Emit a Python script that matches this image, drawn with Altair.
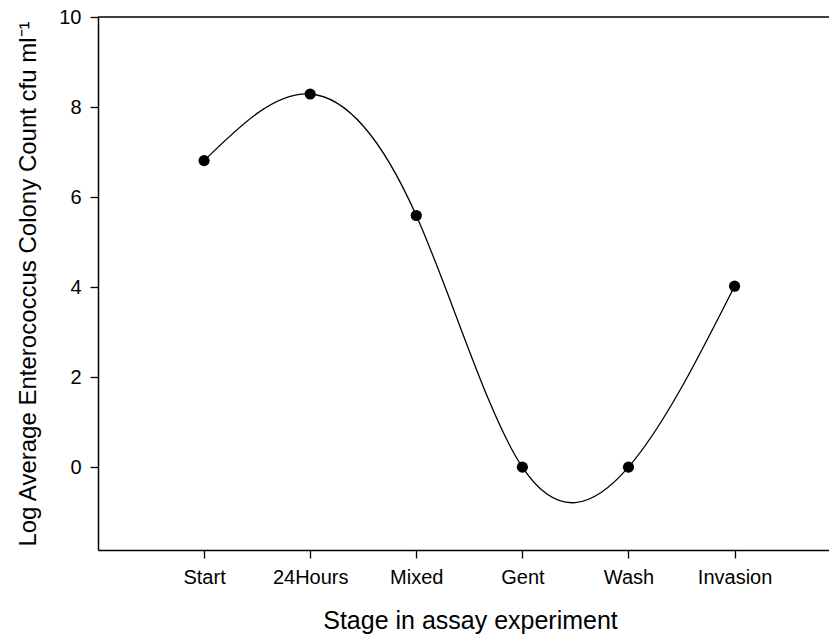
import altair as alt
import pandas as pd

stages = ["Start", "24Hours", "Mixed", "Gent", "Wash", "Invasion"]
positions = [1, 2, 3, 4, 5, 6]
log_counts = [6.81, 8.29, 5.59, 0.0, 0.0, 4.02]
y_ticks = [0, 2, 4, 6, 8, 10]

df = pd.DataFrame({"pos": positions, "stage": stages, "value": log_counts})

FONT = "Liberation Sans"
W, H = 731, 533
label_expr = "[" + ",".join("'" + s + "'" for s in stages) + "][datum.value - 1]"

x_enc = alt.X(
    "pos:Q",
    scale=alt.Scale(domain=[0, 6.89], nice=False, zero=False),
    axis=alt.Axis(
        values=positions,
        labelExpr=label_expr,
        title="Stage in assay experiment",
        titleFontSize=25,
        grid=False,
        tickSize=8,
        labelPadding=9,
        titlePadding=21,
        titleX=372,
    ),
)
y_enc = alt.Y(
    "value:Q",
    scale=alt.Scale(domain=[-1.84, 10], nice=False, zero=False),
    axis=alt.Axis(
        values=y_ticks,
        title="Log Average Enterococcus Colony Count cfu ml\u207b\u00b9",
        grid=False,
        tickSize=8,
        labelPadding=9,
        titlePadding=18,
    ),
)

base = alt.Chart(df)
line = base.mark_line(interpolate="natural", color="black", strokeWidth=1.3).encode(x=x_enc, y=y_enc)
pts = base.mark_circle(size=125, color="black", opacity=1).encode(x=x_enc, y=y_enc)
top = alt.Chart(pd.DataFrame({"v": [10]})).mark_rule(color="black", strokeWidth=1.5).encode(
    y=alt.Y("v:Q", scale=alt.Scale(domain=[-1.84, 10], nice=False, zero=False)),
    x=alt.value(0),
    x2=alt.value(W),
)

chart = (
    alt.layer(line, pts, top)
    .properties(
        width=W,
        height=H,
        autosize=alt.AutoSizeParams(type="none"),
        padding={"left": 98, "top": 17, "right": 0, "bottom": 90},
    )
    .configure_view(stroke=None)
    .configure_axis(
        labelFont=FONT,
        titleFont=FONT,
        labelFontSize=20,
        titleFontSize=24,
        titleFontWeight="normal",
        labelColor="black",
        titleColor="black",
        domainColor="black",
        tickColor="black",
        domainWidth=1.5,
        tickWidth=1.3,
    )
)

chart.save("out.html", embed_options={"renderer": "svg", "actions": False})
